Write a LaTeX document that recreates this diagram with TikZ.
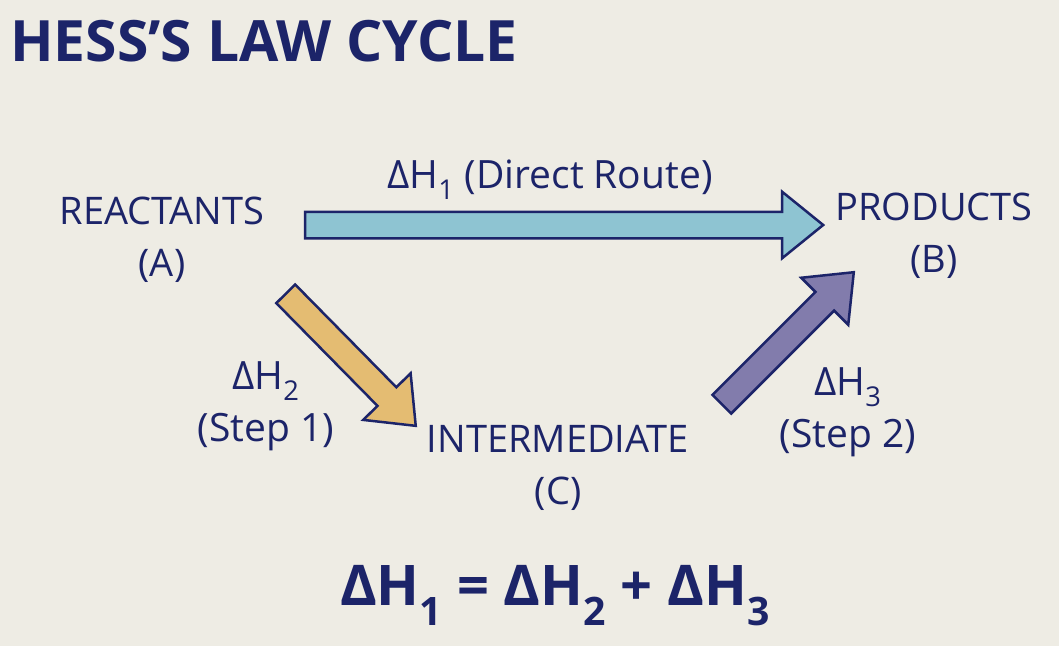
\documentclass[tikz,border=0pt]{standalone}
\usepackage{fontspec}
\setmainfont{Open Sans}
\usetikzlibrary{calc,shapes.arrows}
\definecolor{paper}{RGB}{238,236,228}
\definecolor{ink}{RGB}{28,36,105}
\definecolor{directblue}{RGB}{142,196,210}
\definecolor{stepyellow}{RGB}{228,188,114}
\definecolor{steppurple}{RGB}{130,124,172}
\newcommand{\dH}[1]{ΔH\textsubscript{#1}}

\begin{document}
\begin{tikzpicture}[
  x=1pt, y=-1pt,
  % --- look of the cycle ------------------------------------------------
  title/.style={text=ink, font=\fontsize{57}{60}\selectfont\bfseries,
                anchor=west, inner sep=0pt},
  species/.style={text=ink, font=\fontsize{38}{52}\selectfont,
                  align=center, inner sep=0pt},
  route/.style={text=ink, font=\fontsize{39}{52}\selectfont,
                align=center, inner sep=0pt},
  sumrule/.style={text=ink, font=\fontsize{56}{60}\selectfont\bfseries,
                  inner sep=0pt},
  blockarrow/.style={single arrow, draw=ink, line width=2.5pt,
                     inner xsep=0pt, inner ysep=12pt,
                     single arrow head extend=20pt,
                     single arrow tip angle=78},
  % ---------------------------------------------------------------------
]
  % paper
  \fill[paper] (0,0) rectangle (1059,646);

  % heading
  \node[title] (head) at (10,41) {HESS'S LAW CYCLE};

  % the three states
  \node[species] (react) at (162,240) {REACTANTS\\(A)};
  \node[species] (prod)  at (934,236) {PRODUCTS\\(B)};
  \node[species] (inter) at (558,468) {INTERMEDIATE\\(C)};

  % route labels
  \node[route] (lab1) at (550,180) {\dH{1} (Direct Route)};
  \node[route] (lab2) at (266,406) {\dH{2}\\(Step 1)};
  \node[route] (lab3) at (848,412) {\dH{3}\\(Step 2)};

  % arrow ends
  \coordinate (a1) at (297,225);
  \coordinate (b1) at (815,225);
  \coordinate (a2) at (280,288);
  \coordinate (b2) at (410,420);
  \coordinate (a3) at (716,410);
  \coordinate (b3) at (848,278);

  % block arrows
  \path let \p1=($(b1)-(a1)$), \n1={veclen(\x1,\y1)} in
    (a1) -- (b1) node[midway, sloped, blockarrow, fill=directblue,
                      minimum height=\n1] (direct) {};
  \path let \p1=($(b2)-(a2)$), \n1={veclen(\x1,\y1)} in
    (a2) -- (b2) node[midway, sloped, blockarrow, fill=stepyellow,
                      minimum height=\n1] (step1) {};
  \path let \p1=($(b3)-(a3)$), \n1={veclen(\x1,\y1)} in
    (a3) -- (b3) node[midway, sloped, blockarrow, fill=steppurple,
                      minimum height=\n1] (step2) {};

  % overall relation
  \node[sumrule] (sum) at (555,596) {\dH{1} = \dH{2} + \dH{3}};
\end{tikzpicture}
\end{document}
